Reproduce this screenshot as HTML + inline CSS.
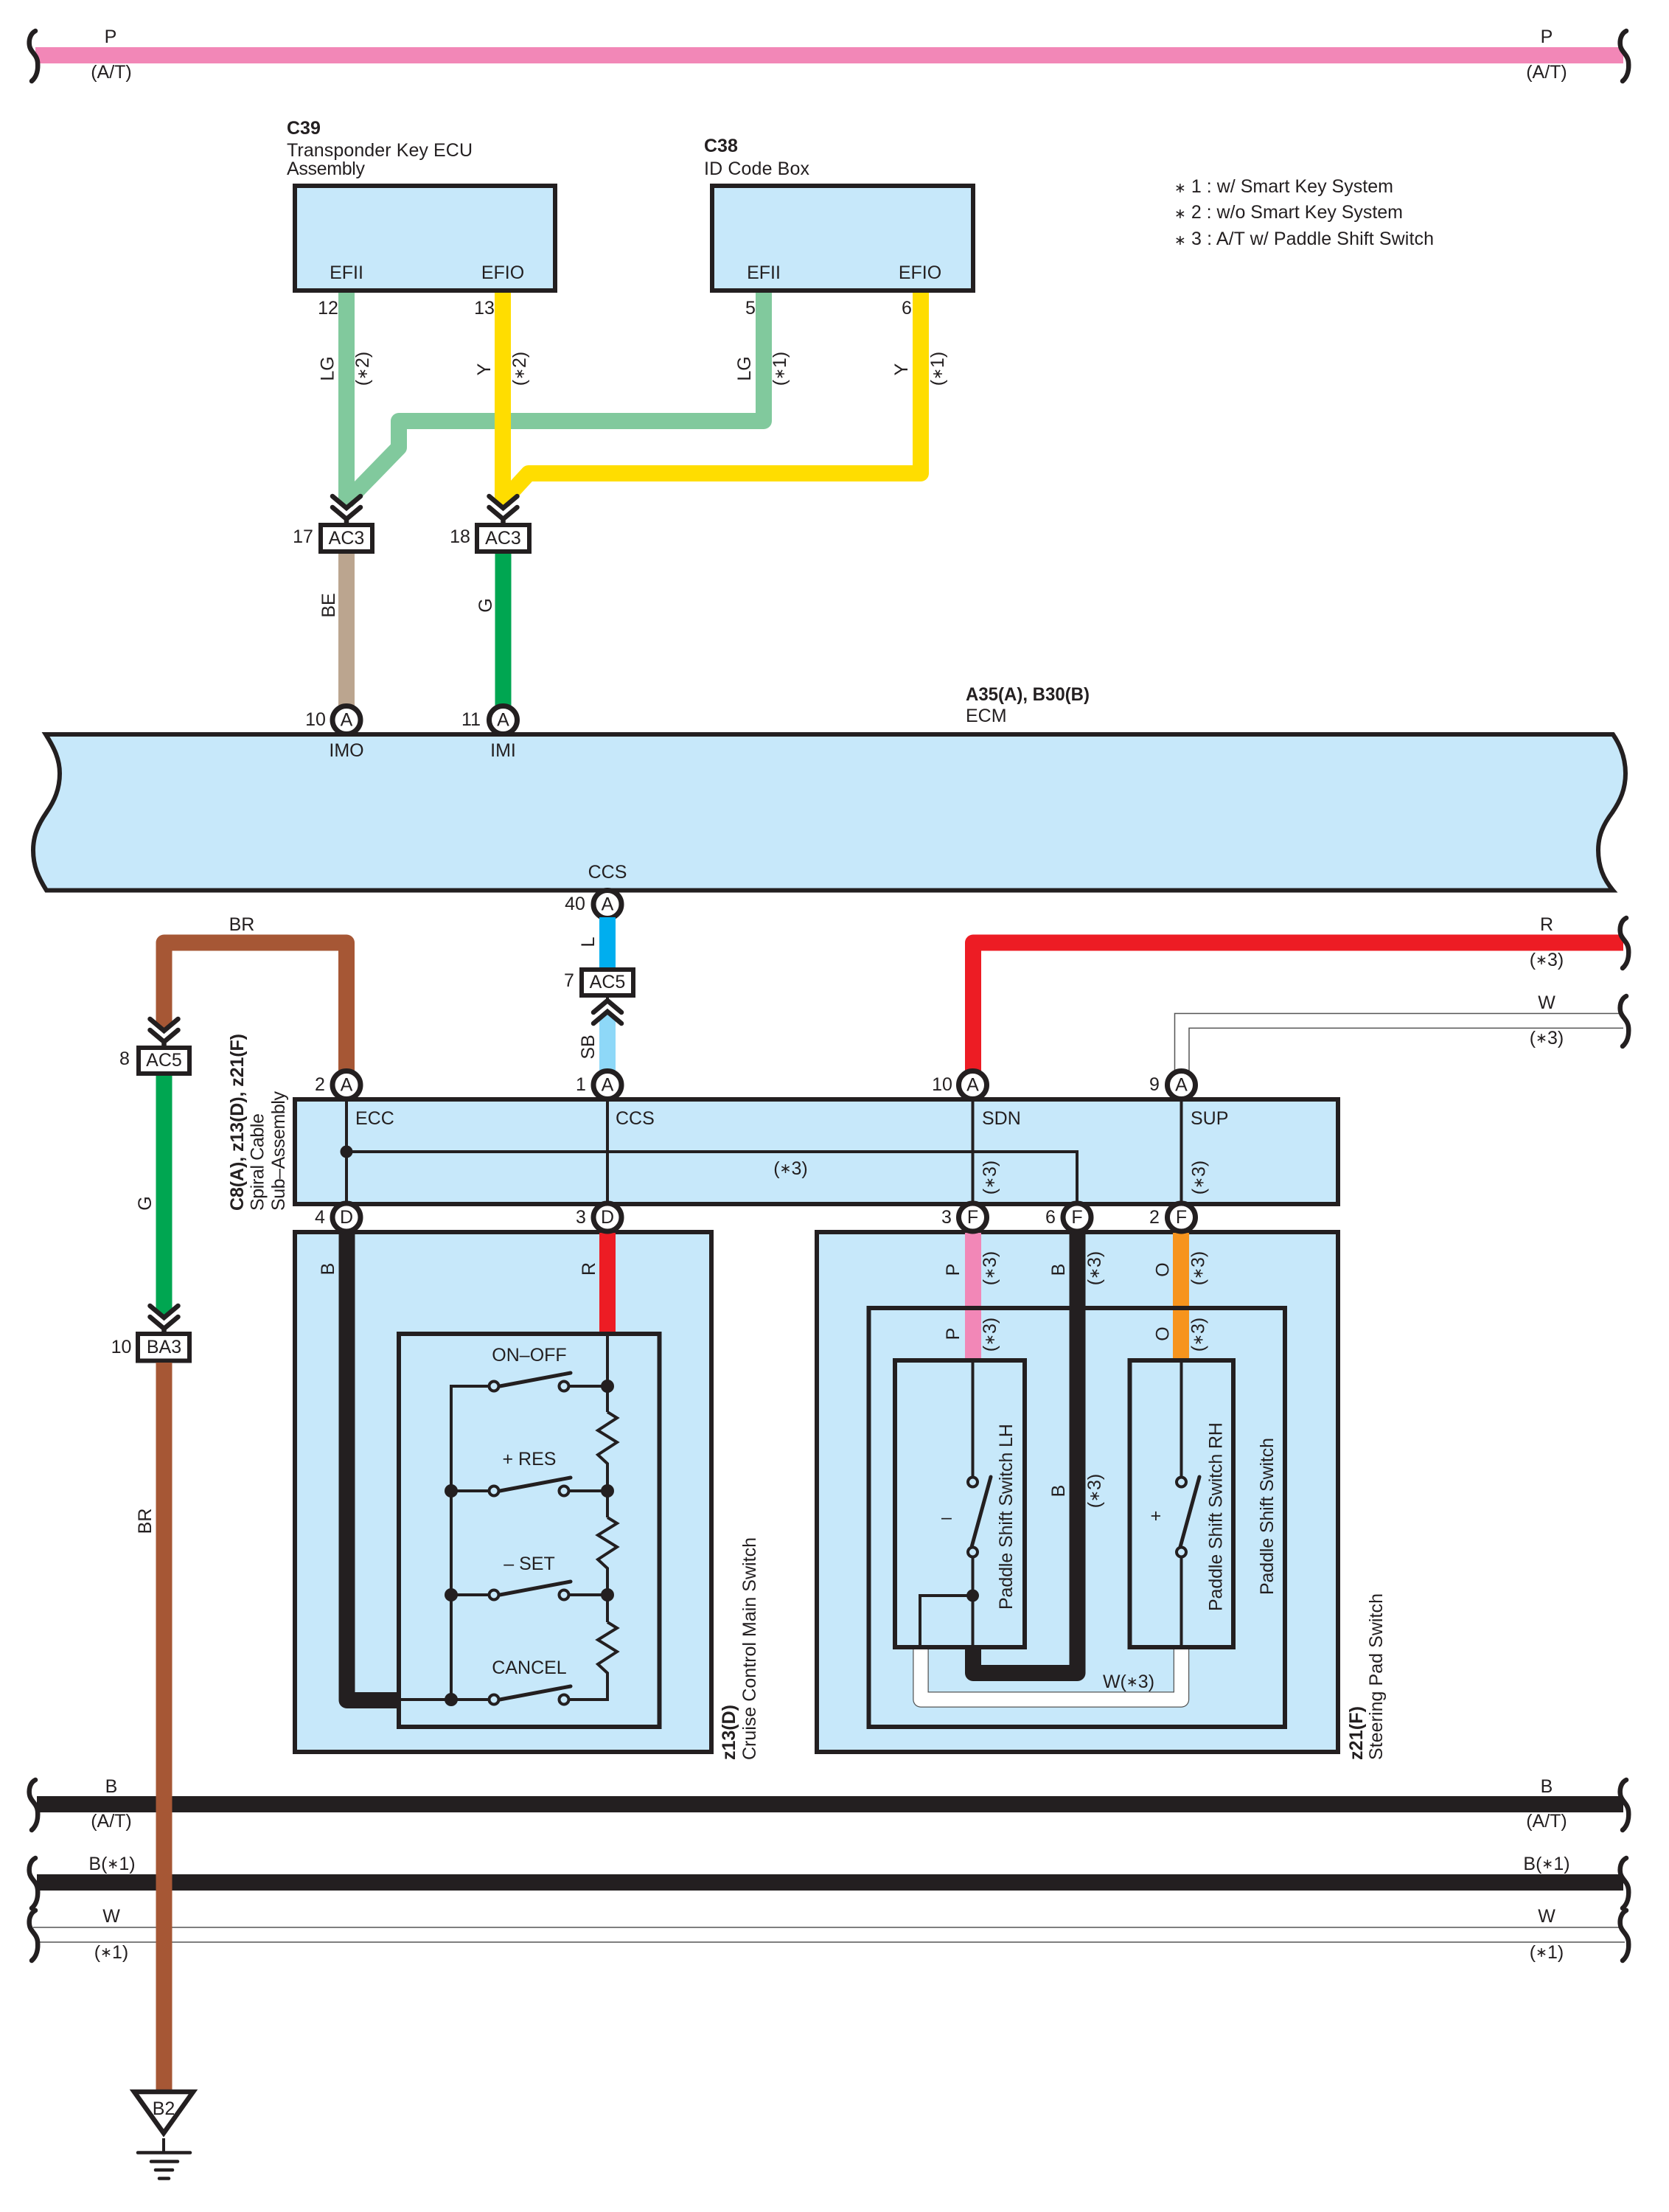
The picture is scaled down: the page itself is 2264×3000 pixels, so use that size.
<!DOCTYPE html>
<html>
<head>
<meta charset="utf-8">
<style>
html,body{margin:0;padding:0;background:#fff}
svg{display:block}
text{font-family:"Liberation Sans","DejaVu Sans",sans-serif;font-size:25px;fill:#231F20}
tspan.a{font-size:19px}
.c{text-anchor:middle;dominant-baseline:central}
.r{text-anchor:start;dominant-baseline:central}
.bd{font-weight:bold}
.box{fill:#C7E8FA;stroke:#231F20;stroke-width:6}
.nb{fill:none;stroke:#231F20;stroke-width:6}
.wb{fill:#fff;stroke:#231F20;stroke-width:6}
.w{fill:none;stroke-width:22;stroke-linejoin:round}
.t{fill:none;stroke:#231F20;stroke-width:4}
.h{fill:none;stroke:#555;stroke-width:1.5}
.sq{fill:none;stroke:#231F20;stroke-width:6.5;stroke-linecap:round}
.ch{fill:none;stroke:#231F20;stroke-width:6.5;stroke-linecap:round;stroke-linejoin:miter}
.pin{fill:#fff;stroke:#231F20;stroke-width:7}
.sw{fill:#C7E8FA;stroke:#231F20;stroke-width:4}
.bl{fill:none;stroke:#231F20;stroke-width:5;stroke-linecap:round}
.dot{fill:#231F20}
</style>
</head>
<body>
<svg xmlns="http://www.w3.org/2000/svg" width="2264" height="3000" viewBox="0 0 2264 3000">
<defs>
<path id="sqz" d="M48,0 C40,4 39,14 40,20 C41,28 50,32 51,42 C52,52 50,62 43,68"/>
<path id="chd" d="M-19,0 L0,16 L19,0 M-19,15 L0,31 L19,15 M0,31 V36"/>
<path id="chu" d="M-19,0 L0,-16 L19,0 M-19,15 L0,-1 L19,15"/>
</defs>

<!-- top pink bus -->
<line x1="48" y1="75" x2="2202" y2="75" class="w" stroke="#F287B7"/>
<use href="#sqz" class="sq" transform="translate(0,42)"/>
<use href="#sqz" class="sq" transform="translate(2158,42)"/>
<text class="c" x="150" y="50">P</text>
<text class="c" x="151" y="98">(A/T)</text>
<text class="c" x="2098" y="50">P</text>
<text class="c" x="2098" y="98">(A/T)</text>

<!-- C39 / C38 -->
<text class="bd" x="389" y="182">C39</text>
<text x="389" y="212" textLength="252" lengthAdjust="spacing">Transponder Key ECU</text>
<text x="389" y="237" textLength="106" lengthAdjust="spacing">Assembly</text>
<text class="bd" x="955" y="206">C38</text>
<text x="955" y="237" textLength="143" lengthAdjust="spacing">ID Code Box</text>

<text x="1593" y="261" textLength="297" lengthAdjust="spacing"><tspan class="a">∗</tspan> 1 : w/ Smart Key System</text>
<text x="1593" y="296" textLength="310" lengthAdjust="spacing"><tspan class="a">∗</tspan> 2 : w/o Smart Key System</text>
<text x="1593" y="332" textLength="352" lengthAdjust="spacing"><tspan class="a">∗</tspan> 3 : A/T w/ Paddle Shift Switch</text>

<!-- upper wires -->
<path class="w" stroke="#81C99D" d="M470,394 V680"/>
<path class="w" stroke="#81C99D" d="M1036,394 V571 H541 V607 L470,680"/>
<polygon fill="#81C99D" points="459,678 481,678 470,690"/>
<path class="w" stroke="#FFDD00" d="M682,394 V680"/>
<path class="w" stroke="#FFDD00" d="M1249,394 V642 H717 L682,680"/>
<polygon fill="#FFDD00" points="671,678 693,678 682,690"/>

<rect class="box" x="400" y="252" width="353" height="142"/>
<rect class="box" x="966" y="252" width="354" height="142"/>
<text class="c" x="470" y="370">EFII</text>
<text class="c" x="682" y="370">EFIO</text>
<text class="c" x="1036" y="370">EFII</text>
<text class="c" x="1248" y="370">EFIO</text>
<text class="c" x="445" y="418">12</text>
<text class="c" x="657" y="418">13</text>
<text class="c" x="1018" y="418">5</text>
<text class="c" x="1230" y="418">6</text>
<text class="c" transform="translate(444.5 500) rotate(-90)">LG</text>
<text class="c" transform="translate(492 500) rotate(-90)">(<tspan class="a">∗</tspan>2)</text>
<text class="c" transform="translate(657 501) rotate(-90)">Y</text>
<text class="c" transform="translate(705 500) rotate(-90)">(<tspan class="a">∗</tspan>2)</text>
<text class="c" transform="translate(1010 500) rotate(-90)">LG</text>
<text class="c" transform="translate(1058 500) rotate(-90)">(<tspan class="a">∗</tspan>1)</text>
<text class="c" transform="translate(1223 501) rotate(-90)">Y</text>
<text class="c" transform="translate(1272 500) rotate(-90)">(<tspan class="a">∗</tspan>1)</text>

<!-- AC3 connectors -->
<use href="#chd" class="ch" transform="translate(470,673)"/>
<use href="#chd" class="ch" transform="translate(682.5,673)"/>
<rect class="wb" x="435" y="712" width="70" height="36"/>
<rect class="wb" x="647" y="712" width="71" height="36"/>
<text class="c" x="470" y="730">AC3</text>
<text class="c" x="682.5" y="730">AC3</text>
<text class="c" x="411" y="728">17</text>
<text class="c" x="624" y="728">18</text>
<line x1="470" y1="751" x2="470" y2="960" class="w" stroke="#BBA58F"/>
<line x1="682.5" y1="751" x2="682.5" y2="960" class="w" stroke="#00A651"/>
<text class="c" transform="translate(446 821) rotate(-90)">BE</text>
<text class="c" transform="translate(659 821) rotate(-90)">G</text>

<!-- ECM -->
<text class="bd" x="1310" y="950" textLength="168" lengthAdjust="spacingAndGlyphs">A35(A), B30(B)</text>
<text x="1310" y="979">ECM</text>
<path class="box" d="M62,996 L2188,996 C2199,1012 2205,1030 2205,1049 C2205,1070 2198,1086 2187,1102 C2175,1118 2168,1133 2168,1153 C2168,1175 2175,1192 2188,1207.5 L63,1207.5 C52,1190 45,1175 45,1153 C45,1133 52,1118 63,1102 C74,1086 81,1070 81,1049 C81,1030 74,1015 62,996 Z"/>
<circle class="pin" cx="470" cy="976.5" r="19"/><text class="c" x="470" y="976.5">A</text>
<circle class="pin" cx="682.5" cy="976.5" r="19"/><text class="c" x="682.5" y="976.5">A</text>
<text class="c" x="428" y="976">10</text>
<text class="c" x="639" y="976">11</text>
<text class="c" x="470" y="1018">IMO</text>
<text class="c" x="682.5" y="1018">IMI</text>
<text class="c" x="824" y="1183">CCS</text>
<circle class="pin" cx="824" cy="1226.5" r="19"/><text class="c" x="824" y="1226.5">A</text>
<text class="c" x="780" y="1226">40</text>

<!-- L / SB -->
<line x1="824" y1="1244" x2="824" y2="1312" class="w" stroke="#00AEEF"/>
<text class="c" transform="translate(798 1277.5) rotate(-90)">L</text>
<rect class="wb" x="789" y="1315" width="70" height="35"/>
<text class="c" x="824" y="1332">AC5</text>
<text class="c" x="772" y="1330">7</text>
<polygon fill="#8ED8F8" points="813,1452 835,1452 835,1383 824,1374 813,1383"/>
<use href="#chu" class="ch" transform="translate(824,1373)"/>
<line x1="824" y1="1352" x2="824" y2="1357" class="t"/>
<text class="c" transform="translate(798 1420) rotate(-90)">SB</text>

<!-- BR / R / W upper -->
<path class="w" stroke="#A65735" d="M470,1452 V1278.5 H222.5 V1389"/>
<polygon fill="#A65735" points="211.5,1388 233.5,1388 222.5,1398"/>
<text class="c" x="328" y="1254">BR</text>
<use href="#chd" class="ch" transform="translate(222.5,1382)"/>
<rect class="wb" x="188" y="1421" width="69" height="35"/>
<text class="c" x="222.5" y="1438">AC5</text>
<text class="c" x="169" y="1436">8</text>

<path class="w" stroke="#ED1C24" d="M1320,1452 V1278.5 H2202"/>
<use href="#sqz" class="sq" transform="translate(2158,1245)"/>
<text class="c" x="2098" y="1254">R</text>
<text class="c" x="2098" y="1302">(<tspan class="a">∗</tspan>3)</text>
<path class="h" d="M1593.5,1452 V1374.5 H2198"/>
<path class="h" d="M1613,1452 V1394.4 H2202"/>
<use href="#sqz" class="sq" transform="translate(2158,1351)"/>
<text class="c" x="2098" y="1360">W</text>
<text class="c" x="2098" y="1408">(<tspan class="a">∗</tspan>3)</text>

<!-- lower buses -->
<line x1="50" y1="2447" x2="2202" y2="2447" class="w" stroke="#231F20"/>
<line x1="50" y1="2553" x2="2202" y2="2553" class="w" stroke="#231F20"/>
<line x1="45" y1="2614" x2="2198" y2="2614" class="h"/>
<line x1="53" y1="2634" x2="2204" y2="2634" class="h"/>
<use href="#sqz" class="sq" transform="translate(0,2414)"/>
<use href="#sqz" class="sq" transform="translate(0,2520)"/>
<use href="#sqz" class="sq" transform="translate(0,2591)"/>
<use href="#sqz" class="sq" transform="translate(2158,2414)"/>
<use href="#sqz" class="sq" transform="translate(2158,2520)"/>
<use href="#sqz" class="sq" transform="translate(2158,2591)"/>
<text class="c" x="151" y="2423">B</text>
<text class="c" x="151" y="2470">(A/T)</text>
<text class="c" x="152" y="2528">B(<tspan class="a">∗</tspan>1)</text>
<text class="c" x="151" y="2599">W</text>
<text class="c" x="151" y="2648">(<tspan class="a">∗</tspan>1)</text>
<text class="c" x="2098" y="2423">B</text>
<text class="c" x="2098" y="2470">(A/T)</text>
<text class="c" x="2098" y="2528">B(<tspan class="a">∗</tspan>1)</text>
<text class="c" x="2098" y="2599">W</text>
<text class="c" x="2098" y="2648">(<tspan class="a">∗</tspan>1)</text>

<!-- left vertical G / BR -->
<line x1="222.5" y1="1459" x2="222.5" y2="1777" class="w" stroke="#00A651"/>
<polygon fill="#00A651" points="211.5,1776 233.5,1776 222.5,1786"/>
<use href="#chd" class="ch" transform="translate(222.5,1771)"/>
<text class="c" transform="translate(197 1632) rotate(-90)">G</text>
<rect class="wb" x="187" y="1809" width="70" height="36.5"/>
<text class="c" x="222.5" y="1827">BA3</text>
<text class="c" x="164.5" y="1827">10</text>
<line x1="222.5" y1="1848" x2="222.5" y2="2834" class="w" stroke="#A65735"/>
<text class="c" transform="translate(197 2063) rotate(-90)">BR</text>

<!-- ground -->
<polygon points="182,2837 262,2837 222,2893" fill="#fff" stroke="#231F20" stroke-width="6.5" stroke-linejoin="miter"/>
<text class="c" x="222" y="2860">B2</text>
<line x1="222" y1="2900" x2="222" y2="2919" class="t"/>
<g stroke="#231F20" stroke-width="4.5" stroke-linecap="round">
<line x1="187" y1="2919.5" x2="258" y2="2919.5"/>
<line x1="205" y1="2931.5" x2="241" y2="2931.5"/>
<line x1="211" y1="2943" x2="234" y2="2943"/>
<line x1="216" y1="2954.5" x2="229" y2="2954.5"/>
</g>

<!-- spiral cable -->
<rect class="box" x="400" y="1491" width="1415" height="142"/>
<line x1="470" y1="1491" x2="470" y2="1633" class="t"/>
<line x1="824" y1="1491" x2="824" y2="1633" class="t"/>
<line x1="1319.5" y1="1491" x2="1319.5" y2="1633" class="t"/>
<line x1="1602.5" y1="1491" x2="1602.5" y2="1633" class="t"/>
<path class="t" d="M470,1562 H1461 V1633"/>
<circle class="dot" cx="470" cy="1562" r="8.5"/>
<text x="482" y="1525">ECC</text>
<text x="835" y="1525">CCS</text>
<text x="1332" y="1525">SDN</text>
<text x="1615" y="1525">SUP</text>
<text class="c" x="1072.5" y="1585">(<tspan class="a">∗</tspan>3)</text>
<text class="c" transform="translate(1343 1597) rotate(-90)">(<tspan class="a">∗</tspan>3)</text>
<text class="c" transform="translate(1626.5 1597) rotate(-90)">(<tspan class="a">∗</tspan>3)</text>
<text class="r bd" transform="translate(322 1642) rotate(-90)" textLength="240" lengthAdjust="spacing">C8(A), z13(D), z21(F)</text>
<text class="r" transform="translate(349.5 1642) rotate(-90)" textLength="132" lengthAdjust="spacing">Spiral Cable</text>
<text class="r" transform="translate(378 1642) rotate(-90)" textLength="162" lengthAdjust="spacing">Sub–Assembly</text>

<!-- z13 -->
<rect class="box" x="400" y="1671" width="565" height="705"/>
<rect x="541" y="1809" width="353.5" height="533" fill="#C7E8FA"/>
<path class="w" stroke="#231F20" d="M470.5,1672 V2306 H542"/>
<line x1="824" y1="1672" x2="824" y2="1808" class="w" stroke="#ED1C24"/>
<rect class="nb" x="541" y="1809" width="353.5" height="533"/>
<text class="c" transform="translate(445 1721) rotate(-90)">B</text>
<text class="c" transform="translate(799 1721) rotate(-90)">R</text>
<path class="t" d="M824,1809 V1880"/>
<path class="t" d="M772,1880 H824 M824,1880 V1915"/>
<path class="t" d="M824,1915 L837,1923 L811,1940 L837,1956 L811,1973 L824,1985 V2058"/>
<path class="t" d="M824,2058 L837,2066 L811,2082 L837,2098 L811,2115 L824,2127 V2200"/>
<path class="t" d="M824,2200 L837,2208 L811,2224 L837,2240 L811,2257 L824,2269 V2305 H772"/>
<path class="t" d="M663,1880 H612 V2305"/>
<path class="t" d="M663,2022 H612 M772,2022 H824"/>
<path class="t" d="M663,2163 H612 M772,2163 H824"/>
<path class="t" d="M544,2305 H663"/>
<g>
<circle class="sw" cx="670" cy="1880" r="6.5"/><circle class="sw" cx="765" cy="1880" r="6.5"/>
<circle class="sw" cx="670" cy="2022" r="6.5"/><circle class="sw" cx="765" cy="2022" r="6.5"/>
<circle class="sw" cx="670" cy="2163" r="6.5"/><circle class="sw" cx="765" cy="2163" r="6.5"/>
<circle class="sw" cx="670" cy="2305" r="6.5"/><circle class="sw" cx="765" cy="2305" r="6.5"/>
</g>
<line class="bl" x1="678" y1="1880" x2="774" y2="1862"/>
<line class="bl" x1="678" y1="2022" x2="774" y2="2004"/>
<line class="bl" x1="678" y1="2163" x2="774" y2="2145"/>
<line class="bl" x1="678" y1="2305" x2="774" y2="2287"/>
<circle class="dot" cx="824" cy="1880" r="9"/>
<circle class="dot" cx="824" cy="2022" r="9"/>
<circle class="dot" cx="824" cy="2163" r="9"/>
<circle class="dot" cx="612" cy="2022" r="9"/>
<circle class="dot" cx="612" cy="2163" r="9"/>
<circle class="dot" cx="612" cy="2305" r="9"/>
<text class="c" x="718" y="1838">ON–OFF</text>
<text class="c" x="718" y="1979">+ RES</text>
<text class="c" x="718" y="2121">– SET</text>
<text class="c" x="718" y="2262">CANCEL</text>
<text class="r bd" transform="translate(989 2387) rotate(-90)" textLength="75" lengthAdjust="spacing">z13(D)</text>
<text class="r" transform="translate(1017 2387) rotate(-90)" textLength="302" lengthAdjust="spacing">Cruise Control Main Switch</text>

<!-- z21 -->
<rect class="box" x="1108" y="1671" width="707" height="705"/>
<rect x="1178.5" y="1774" width="564.5" height="568" fill="#C7E8FA"/>
<line x1="1320" y1="1672" x2="1320" y2="1845" class="w" stroke="#F287B7"/>
<line x1="1602" y1="1672" x2="1602" y2="1845" class="w" stroke="#F7941D"/>
<path class="w" stroke="#231F20" d="M1461.5,1672 V2269 H1320 V2234"/>
<path fill="none" stroke="#555" stroke-width="21.5" stroke-linejoin="round" d="M1249,2234 V2305 H1602.5 V2234"/>
<path fill="none" stroke="#fff" stroke-width="19" stroke-linejoin="round" d="M1249,2234 V2305 H1602.5 V2234"/>
<rect class="nb" x="1178.5" y="1774" width="564.5" height="568"/>
<rect class="box" x="1214" y="1845" width="176" height="389"/>
<rect class="box" x="1532.5" y="1845" width="140.5" height="389"/>
<text class="c" transform="translate(1293 1722) rotate(-90)">P</text>
<text class="c" transform="translate(1293 1809) rotate(-90)">P</text>
<text class="c" transform="translate(1343 1720) rotate(-90)">(<tspan class="a">∗</tspan>3)</text>
<text class="c" transform="translate(1343 1810) rotate(-90)">(<tspan class="a">∗</tspan>3)</text>
<text class="c" transform="translate(1436 1722) rotate(-90)">B</text>
<text class="c" transform="translate(1485 1720) rotate(-90)">(<tspan class="a">∗</tspan>3)</text>
<text class="c" transform="translate(1577.5 1722) rotate(-90)">O</text>
<text class="c" transform="translate(1577.5 1809) rotate(-90)">O</text>
<text class="c" transform="translate(1625.5 1720) rotate(-90)">(<tspan class="a">∗</tspan>3)</text>
<text class="c" transform="translate(1625.5 1810) rotate(-90)">(<tspan class="a">∗</tspan>3)</text>
<text class="c" transform="translate(1436 2022) rotate(-90)">B</text>
<text class="c" transform="translate(1485 2022) rotate(-90)">(<tspan class="a">∗</tspan>3)</text>
<text class="c" x="1284" y="2058">–</text>
<text class="c" transform="translate(1568 2056) rotate(-90)">+</text>
<path class="t" d="M1319.5,1845 V2003 M1319.5,2112 V2234"/>
<path class="t" d="M1602.5,1845 V2003 M1602.5,2112 V2234"/>
<path class="t" d="M1319.5,2164 H1248 V2234"/>
<circle class="dot" cx="1319.5" cy="2164" r="8.5"/>
<circle class="sw" cx="1319.5" cy="2010" r="6.5"/><circle class="sw" cx="1319.5" cy="2105" r="6.5"/>
<circle class="sw" cx="1602.5" cy="2010" r="6.5"/><circle class="sw" cx="1602.5" cy="2105" r="6.5"/>
<line class="bl" x1="1318" y1="2098" x2="1344" y2="2003"/>
<line class="bl" x1="1601" y1="2098" x2="1627" y2="2003"/>
<text class="r" transform="translate(1365 2183) rotate(-90)" textLength="252" lengthAdjust="spacing">Paddle Shift Switch LH</text>
<text class="r" transform="translate(1649.5 2185) rotate(-90)" textLength="256" lengthAdjust="spacing">Paddle Shift Switch RH</text>
<text class="r" transform="translate(1719 2163) rotate(-90)" textLength="213" lengthAdjust="spacing">Paddle Shift Switch</text>
<text class="c" x="1531" y="2281">W(<tspan class="a">∗</tspan>3)</text>
<text class="r bd" transform="translate(1840 2387) rotate(-90)" textLength="73" lengthAdjust="spacing">z21(F)</text>
<text class="r" transform="translate(1867 2387) rotate(-90)" textLength="226" lengthAdjust="spacing">Steering Pad Switch</text>

<!-- pins on spiral -->
<circle class="pin" cx="470" cy="1471.5" r="19"/><text class="c" x="470" y="1471.5">A</text>
<circle class="pin" cx="824" cy="1471.5" r="19"/><text class="c" x="824" y="1471.5">A</text>
<circle class="pin" cx="1319.5" cy="1471.5" r="19"/><text class="c" x="1319.5" y="1471.5">A</text>
<circle class="pin" cx="1602.5" cy="1471.5" r="19"/><text class="c" x="1602.5" y="1471.5">A</text>
<text class="c" x="434" y="1471">2</text>
<text class="c" x="788" y="1471">1</text>
<text class="c" x="1278" y="1471">10</text>
<text class="c" x="1566" y="1471">9</text>
<circle class="pin" cx="470" cy="1651" r="19"/><text class="c" x="470" y="1651">D</text>
<circle class="pin" cx="824" cy="1651" r="19"/><text class="c" x="824" y="1651">D</text>
<circle class="pin" cx="1319.5" cy="1651" r="19"/><text class="c" x="1319.5" y="1651">F</text>
<circle class="pin" cx="1461" cy="1651" r="19"/><text class="c" x="1461" y="1651">F</text>
<circle class="pin" cx="1602.5" cy="1651" r="19"/><text class="c" x="1602.5" y="1651">F</text>
<text class="c" x="434" y="1651">4</text>
<text class="c" x="788" y="1651">3</text>
<text class="c" x="1284" y="1651">3</text>
<text class="c" x="1425" y="1651">6</text>
<text class="c" x="1566" y="1651">2</text>
</svg>
</body>
</html>
